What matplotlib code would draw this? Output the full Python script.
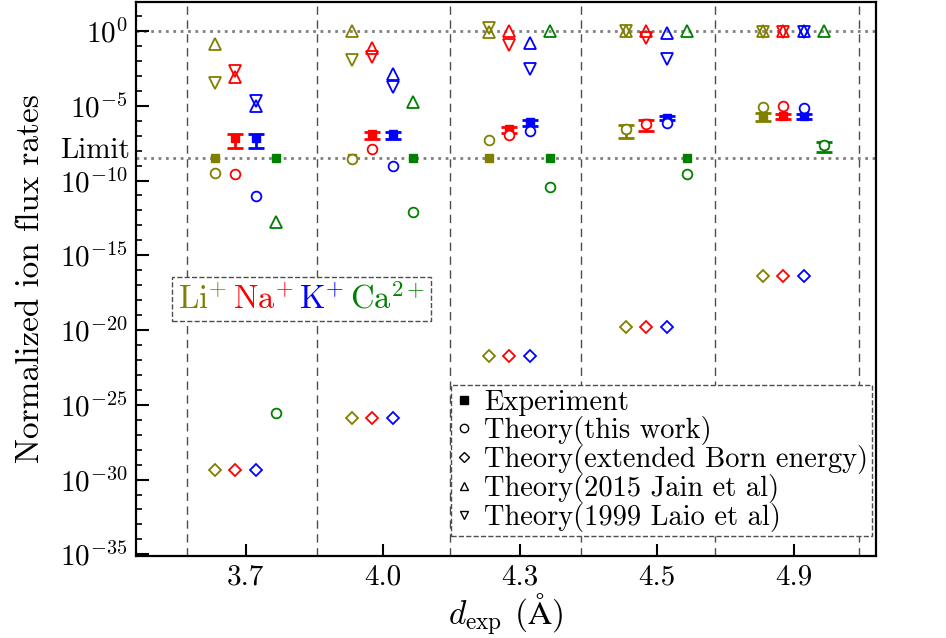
import numpy as np
import matplotlib.pyplot as plt
from matplotlib.lines import Line2D
from matplotlib.offsetbox import AnchoredOffsetbox, HPacker, TextArea
from matplotlib.ticker import FixedLocator, NullFormatter
import matplotlib.transforms as mtransforms

plt.rcParams["font.family"] = "serif"
plt.rcParams["font.serif"] = ["cmr10", "DejaVu Serif"]
plt.rcParams["mathtext.fontset"] = "cm"
plt.rcParams["axes.formatter.use_mathtext"] = True

# pore sizes (A) and ions
distances = ["3.7", "4.0", "4.3", "4.5", "4.9"]
ion_labels = [r"Li$^{+}$", r"Na$^{+}$", r"K$^{+}$", r"Ca$^{2+}$"]
ion_colors = ["#808000", "red", "blue", "green"]
nan = np.nan
limit = 3.2e-9

# experiment (rows: Li, Na, K, Ca)
exp_vals = [
    [limit, limit, limit, 2.9e-7, 2.0e-6],
    [7.0e-8, 1.2e-7, 2.6e-7, 7.0e-7, 2.0e-6],
    [7.0e-8, 1.2e-7, 7.8e-7, 1.6e-6, 2.1e-6],
    [limit, limit, limit, limit, 2.3e-8],
]
exp_err = [
    [nan, nan, nan, 2.2e-7, 1.1e-6],
    [5.5e-8, 6.0e-8, 1.0e-7, 5.0e-7, 7.0e-7],
    [5.5e-8, 6.0e-8, 3.3e-7, 5.5e-7, 8.0e-7],
    [nan, nan, nan, nan, 1.5e-8],
]
# theory (this work)
this_work = [
    [3.3e-10, 2.9e-9, 5.0e-8, 2.8e-7, 7.8e-6],
    [2.6e-10, 1.3e-8, 1.1e-7, 6.0e-7, 1.0e-5],
    [9.0e-12, 1.0e-9, 2.0e-7, 6.7e-7, 6.7e-6],
    [3.0e-26, 8.0e-13, 3.5e-11, 2.7e-10, 2.3e-8],
]
# theory (extended Born energy)
born = [
    [4.5e-30, 1.35e-26, 1.8e-22, 1.7e-20, 4.0e-17],
    [4.5e-30, 1.35e-26, 1.8e-22, 1.7e-20, 4.0e-17],
    [4.5e-30, 1.35e-26, 1.8e-22, 1.7e-20, 4.0e-17],
    [nan, nan, nan, nan, nan],
]
# theory (2015 Jain et al)
jain = [
    [0.13, 1.0, 0.8, 0.95, 1.05],
    [8.0e-4, 0.07, 1.0, 1.0, 1.05],
    [1.0e-5, 1.3e-3, 0.15, 0.7, 1.05],
    [1.6e-13, 1.9e-5, 1.0, 1.0, 1.0],
]
# theory (1999 Laio et al)
laio = [
    [3.5e-4, 1.1e-2, 1.6, 0.95, 0.85],
    [2.0e-3, 0.017, 0.115, 0.36, 0.85],
    [2.2e-5, 1.9e-4, 2.7e-3, 1.3e-2, 0.85],
    [nan, nan, nan, nan, nan],
]

offsets = [-0.225, -0.075, 0.075, 0.225]
separators = [-0.43, 0.52, 1.49, 2.45, 3.43, 4.48]

fig = plt.figure(figsize=(9.46, 6.38), dpi=100)
ax = fig.add_axes([0.1438, 0.1293, 0.7819, 0.8676])
ax.set_yscale("log")

for xs in separators:
    ax.axvline(xs, color="0.3", lw=1.0, ls=(0, (6, 4)), zorder=1)
for yv in [1.0, limit]:
    ax.axhline(yv, color="0.5", lw=2.0, ls=":", zorder=1)

pos = np.arange(len(distances))
for i, c in enumerate(ion_colors):
    x = pos + offsets[i]
    ax.plot(x, born[i], "D", ms=6, mfc="none", mec=c, mew=1.3, zorder=3)
    ax.plot(x, jain[i], "^", ms=8, mfc="none", mec=c, mew=1.3, zorder=3)
    ax.plot(x, laio[i], "v", ms=8, mfc="none", mec=c, mew=1.3, zorder=3)
    ax.errorbar(x, exp_vals[i], yerr=exp_err[i], fmt="s", ms=6, color=c,
                elinewidth=2, capsize=5.5, capthick=2, zorder=3)
    ax.plot(x, this_work[i], "o", ms=7, mfc="white", mec=c, mew=1.3, zorder=4)

ax.set_xlim(-0.8, 4.6)
ax.set_ylim(10 ** -35.08, 10 ** 1.94)
ax.set_xticks(pos)
ax.set_xticklabels(distances)
ax.yaxis.set_major_locator(FixedLocator([10.0 ** k for k in range(0, -36, -5)]))
ax.yaxis.set_minor_locator(FixedLocator([10.0 ** k for k in range(1, -36, -1)]))
ax.yaxis.set_minor_formatter(NullFormatter())
ax.set_yticklabels([r"$10^{%d}$" % k for k in range(0, -36, -5)])

ax.tick_params(axis="both", which="major", direction="in", length=9, width=1.5,
               labelsize=21, pad=6)
ax.tick_params(axis="y", which="minor", direction="in", length=4.5, width=1.2)
for sp in ax.spines.values():
    sp.set_linewidth(1.6)

trans = mtransforms.blended_transform_factory(ax.transAxes, ax.transData)
ax.text(-0.008, limit, "Limit", transform=trans, ha="right", va="baseline",
        fontsize=21)

ax.set_ylabel("Normalized ion flux rates", fontsize=24, labelpad=11)
ax.set_xlabel(r"$d_{\rm exp}$ ($\mathrm{\AA}$)", fontsize=24, labelpad=1)

# ion colour key
areas = [TextArea(lbl, textprops=dict(color=c, fontsize=23.5))
         for lbl, c in zip(ion_labels, ion_colors)]
pack = HPacker(children=areas, align="baseline", pad=0, sep=4)
box = AnchoredOffsetbox(loc="lower left", child=pack, pad=0.45, borderpad=0,
                        frameon=True, bbox_to_anchor=(0.0487, 0.4237),
                        bbox_transform=ax.transAxes)
box.patch.set_linestyle("--")
box.patch.set_edgecolor("0.3")
box.patch.set_boxstyle("square", pad=0)
box.zorder = 5
ax.add_artist(box)

handles = [
    Line2D([], [], ls="none", marker="s", ms=6, color="k"),
    Line2D([], [], ls="none", marker="o", ms=6, mfc="none", mec="k"),
    Line2D([], [], ls="none", marker="D", ms=5, mfc="none", mec="k"),
    Line2D([], [], ls="none", marker="^", ms=6, mfc="none", mec="k"),
    Line2D([], [], ls="none", marker="v", ms=6, mfc="none", mec="k"),
]
labels = ["Experiment", "Theory(this work)", "Theory(extended Born energy)",
          "Theory(2015 Jain et al)", "Theory(1999 Laio et al)"]
leg = ax.legend(handles, labels, loc="lower right", bbox_to_anchor=(0.995, 0.035),
                fontsize=20.5, handlelength=0.6, handletextpad=0.4, borderpad=0.15,
                labelspacing=0.0, borderaxespad=0, fancybox=False, framealpha=1)
leg.get_frame().set_linestyle("--")
leg.get_frame().set_edgecolor("0.3")
leg.set_zorder(5)

fig.savefig("out.png", dpi=100)
